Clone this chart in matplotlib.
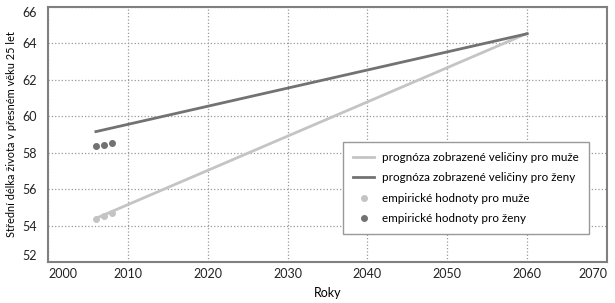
import matplotlib.pyplot as plt

plt.rcParams['font.family'] = ['Lato', 'DejaVu Sans']

# empirical values
emp_years = [2006, 2007, 2008]
emp_men = [54.37, 54.55, 54.71]
emp_women = [58.38, 58.40, 58.55]

# forecast lines
fc_years = [2006, 2060]
fc_men = [54.40, 64.55]
fc_women = [59.16, 64.53]

light = '#c4c4c4'
dark = '#727272'

fig = plt.figure(figsize=(6.15, 3.03), dpi=100)
ax = fig.add_axes([0.078, 0.135, 0.909, 0.842])

ax.plot(fc_years, fc_men, color=light, lw=2, label='prognóza zobrazené veličiny pro muže')
ax.plot(fc_years, fc_women, color=dark, lw=2, label='prognóza zobrazené veličiny pro ženy')
ax.plot(emp_years, emp_men, 'o', color=light, ms=4, label='empirické hodnoty pro muže')
ax.plot(emp_years, emp_women, 'o', color=dark, ms=4, label='empirické hodnoty pro ženy')

ax.set_xlim(2000, 2070)
ax.set_ylim(52, 66)
ax.set_xticks(range(2000, 2071, 10))
ax.set_yticks(range(52, 67, 2))
ax.grid(True, linestyle=':', color='#999999', lw=0.9)
ax.tick_params(length=0, labelsize=9, colors='#222222')
ax.tick_params(axis='x', pad=4)
ax.tick_params(axis='y', pad=8)
xl = ax.get_xticklabels()
xl[0].set_ha('left')
xl[-1].set_ha('right')
yl = ax.get_yticklabels()
yl[0].set_va('bottom')
yl[-1].set_va('top')

for s in ax.spines.values():
    s.set_color('#808080')
    s.set_linewidth(1.5)

ax.set_xlabel('Roky', fontsize=9, labelpad=5)
ax.set_ylabel('Střední délka života v přesném věku 25 let', fontsize=7.9, labelpad=4)

leg = ax.legend(loc='upper left', bbox_to_anchor=(0.528, 0.47), fontsize=8.4,
                fancybox=False, framealpha=1, edgecolor='#999999',
                handlelength=1.8, handletextpad=0.7, borderpad=0.85,
                labelspacing=0.8, borderaxespad=0)
leg.get_frame().set_linewidth(1.0)

plt.savefig('out.png', dpi=100)
